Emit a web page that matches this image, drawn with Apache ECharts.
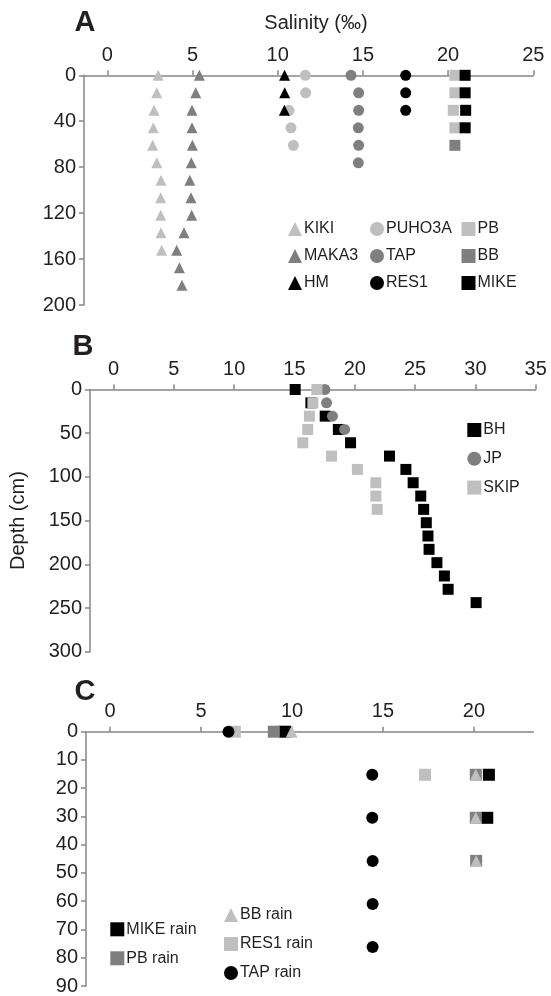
<!DOCTYPE html>
<html>
<head>
<meta charset="utf-8">
<script src="https://cdn.jsdelivr.net/npm/echarts@6/dist/echarts.min.js"></script>
<style>html,body{margin:0;padding:0;background:#fff}#c{width:551px;height:996px}</style>
</head>
<body>
<div id="c"></div>
<script>
// Depths (cm) sampled every 6 in
const DEPTHS = [0, 15.24, 30.48, 45.72, 60.96, 76.2, 91.44, 106.68, 121.92, 137.16, 152.4, 167.64, 182.88, 198.12, 213.36, 228.6, 243.84];

// Panel A salinity (‰)
const A_KIKI   = [2.98, 2.90, 2.74, 2.70, 2.66, 2.90, 3.15, 3.13, 3.13, 3.15, 3.19];
const A_MAKA3  = [5.40, 5.19, 4.97, 4.97, 4.99, 4.93, 4.84, 4.91, 4.95, 4.50, 4.07, 4.23, 4.38];
const A_HM     = [10.40, 10.41, 10.39];
const A_PUHO3A = [11.62, 11.64, 10.66, 10.78, 10.92];
const A_TAP    = [14.30, 14.75, 14.75, 14.73, 14.75, 14.73];
const A_RES1   = [17.51, 17.51, 17.51];
const A_PB     = [20.40, 20.40, 20.30, 20.40];
const A_BB_D   = [60.96];
const A_BB     = [20.40];
const A_MIKE   = [21.00, 21.00, 21.03, 21.00];

// Panel B salinity
const B_BH   = [15.06, 16.36, 17.55, 18.64, 19.65, 22.88, 24.24, 24.84, 25.47, 25.71, 25.93, 26.07, 26.16, 26.81, 27.43, 27.74, 30.06];
const B_JP   = [17.52, 17.66, 18.15, 19.16];
const B_SKIP = [16.86, 16.53, 16.24, 16.10, 15.69, 18.07, 20.22, 21.75, 21.75, 21.86];

// Panel C salinity after rain
const C_MIKE = [9.62, 20.82, 20.73];
const C_PB   = [9.00, 20.10, 20.10, 20.12];
const C_BB   = [9.98, 20.10, 20.10, 20.12];
const C_RES1 = [6.86, 17.31];
const C_TAP  = [6.51, 14.41, 14.41, 14.43, 14.43, 14.43];

// Tick labels
const A_XTICKS = [0, 5, 10, 15, 20, 25];
const B_XTICKS = [0, 5, 10, 15, 20, 25, 30, 35];
const C_XTICKS = [0, 5, 10, 15, 20];

const FONT = '"Liberation Sans", Arial, sans-serif';
const TXT = '#231f20';
const AXC = '#868686';
const LIGHT = '#bfbfbf', DARK = '#7f7f7f', BLACK = '#000000';

function pts(vals, depths) { return vals.map((v, i) => [v, depths[i]]); }

function mkX(g, min, max, ticks) {
  return {
    type: 'value', gridIndex: g, position: 'top', min: min, max: max,
    axisLine: { show: true, onZero: false, lineStyle: { color: AXC, width: 1.5 } },
    axisTick: { show: true, inside: false, length: 5, customValues: ticks, lineStyle: { color: AXC, width: 1.5 } },
    axisLabel: { show: true, customValues: ticks, margin: 10, fontSize: 20, color: TXT, fontFamily: FONT },
    splitLine: { show: false }
  };
}
function mkY(g, max, interval, extra) {
  return Object.assign({
    type: 'value', gridIndex: g, inverse: true, min: 0, max: max, interval: interval,
    axisLine: { show: true, onZero: false, lineStyle: { color: AXC, width: 1.5 } },
    axisTick: { show: true, inside: false, length: 5, lineStyle: { color: AXC, width: 1.5 } },
    axisLabel: { show: true, margin: 8, fontSize: 20, color: TXT, fontFamily: FONT },
    splitLine: { show: false }
  }, extra || {});
}
function sc(name, g, data, symbol, size, color) {
  return {
    type: 'scatter', name: name, xAxisIndex: g, yAxisIndex: g, data: data,
    symbol: symbol, symbolSize: size, clip: false,
    itemStyle: { color: color, opacity: 1 },
    emphasis: { disabled: true }
  };
}
// icon box 14 (symbol drawn at ~80%); cx = icon centre x, cy = first row centre y
function lg(names, cx, cy, gap) {
  return {
    data: names, orient: 'vertical', left: cx - 7, top: cy - 8, itemGap: gap,
    itemWidth: 14, itemHeight: 14, padding: 0, selectedMode: false,
    textStyle: { fontSize: 16, lineHeight: 16, color: TXT, fontFamily: FONT, padding: [0, 0, 0, -3] }
  };
}

const chart = echarts.init(document.getElementById('c'), null, { renderer: 'canvas' });
chart.setOption({
  animation: false,
  backgroundColor: '#ffffff',
  grid: [
    { left: 84, top: 75.3, width: 449.3, height: 229.7 },
    { left: 85.3, top: 389.5, width: 450.4, height: 262.2 },
    { left: 86, top: 731.7, width: 447.3, height: 259 }
  ],
  xAxis: [
    mkX(0, -1.37, 25, A_XTICKS),
    mkX(1, -1.95, 35, B_XTICKS),
    mkX(2, -1.32, 23.26, C_XTICKS)
  ],
  yAxis: [
    mkY(0, 200, 40),
    mkY(1, 300, 50, { name: 'Depth (cm)', nameLocation: 'middle', nameGap: 62, nameRotate: 90,
      nameTextStyle: { fontSize: 20, color: TXT, fontFamily: FONT } }),
    mkY(2, 90, 10)
  ],
  legend: [
    lg(['KIKI', 'MAKA3', 'HM'], 295, 229, 11),
    lg(['PUHO3A', 'TAP', 'RES1'], 377, 229, 11),
    lg(['PB', 'BB', 'MIKE'], 468.5, 229, 11),
    lg(['BH', 'JP', 'SKIP'], 474.3, 430, 12.8),
    lg(['MIKE rain', 'PB rain'], 117.3, 929.3, 13),
    lg(['BB rain', 'RES1 rain', 'TAP rain'], 231, 915, 13)
  ],
  graphic: [
    { type: 'text', x: 85, y: 23, style: { text: 'A', font: 'bold 29px "Liberation Sans", Arial, sans-serif', fill: TXT, align: 'center', verticalAlign: 'middle' } },
    { type: 'text', x: 83, y: 347, style: { text: 'B', font: 'bold 29px "Liberation Sans", Arial, sans-serif', fill: TXT, align: 'center', verticalAlign: 'middle' } },
    { type: 'text', x: 85, y: 692, style: { text: 'C', font: 'bold 29px "Liberation Sans", Arial, sans-serif', fill: TXT, align: 'center', verticalAlign: 'middle' } },
    { type: 'text', x: 316, y: 23, style: { text: 'Salinity (‰)', font: '20px "Liberation Sans", Arial, sans-serif', fill: TXT, align: 'center', verticalAlign: 'middle' } }
  ],
  series: [
    sc('KIKI', 0, pts(A_KIKI, DEPTHS), 'triangle', 11, LIGHT),
    sc('PUHO3A', 0, pts(A_PUHO3A, DEPTHS), 'circle', 11, LIGHT),
    sc('PB', 0, pts(A_PB, DEPTHS), 'rect', 11, LIGHT),
    sc('MAKA3', 0, pts(A_MAKA3, DEPTHS), 'triangle', 11, DARK),
    sc('TAP', 0, pts(A_TAP, DEPTHS), 'circle', 11, DARK),
    sc('BB', 0, pts(A_BB, A_BB_D), 'rect', 11, DARK),
    sc('HM', 0, pts(A_HM, DEPTHS), 'triangle', 11, BLACK),
    sc('RES1', 0, pts(A_RES1, DEPTHS), 'circle', 11, BLACK),
    sc('MIKE', 0, pts(A_MIKE, DEPTHS), 'rect', 11, BLACK),

    sc('BH', 1, pts(B_BH, DEPTHS), 'rect', 11, BLACK),
    sc('JP', 1, pts(B_JP, DEPTHS), 'circle', 11, DARK),
    sc('SKIP', 1, pts(B_SKIP, DEPTHS), 'rect', 11, LIGHT),

    sc('MIKE rain', 2, pts(C_MIKE, DEPTHS), 'rect', 12, BLACK),
    sc('PB rain', 2, pts(C_PB, DEPTHS), 'rect', 12, DARK),
    sc('BB rain', 2, pts(C_BB, DEPTHS), 'triangle', 12, LIGHT),
    sc('RES1 rain', 2, pts(C_RES1, DEPTHS), 'rect', 12, LIGHT),
    sc('TAP rain', 2, pts(C_TAP, DEPTHS), 'circle', 12, BLACK)
  ]
});
</script>
</body>
</html>
